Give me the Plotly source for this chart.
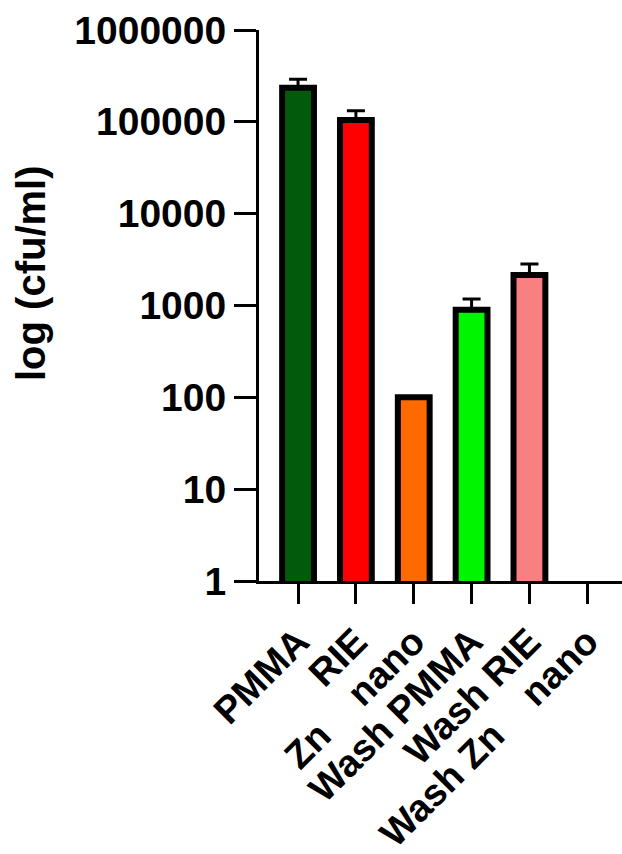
import plotly.graph_objects as go

categories = ["PMMA", "RIE", "Zn\u00a0\u00a0\u00a0\u00a0nano", "Wash PMMA", "Wash RIE", "Wash Zn\u00a0\u00a0\u00a0\u00a0nano"]
values = [235000, 105000, 100, 900, 2150, None]
errors_up = [55000, 27000, 0, 280, 680, 0]
colors = ["#005c0a", "#ff0000", "#ff6a00", "#00f500", "#f88080", "#ffffff"]
tick_vals = [1, 10, 100, 1000, 10000, 100000, 1000000]
tick_text = ["1", "10", "100", "1000", "10000", "100000", "1000000"]

FONT = "Liberation Sans, Arial, sans-serif"

fig = go.Figure()
fig.add_trace(go.Bar(
    x=categories,
    y=values,
    width=0.55,
    marker=dict(color=colors, line=dict(color="black", width=6)),
    error_y=dict(type="data", symmetric=False, array=errors_up,
                 arrayminus=[0] * len(values), color="black",
                 thickness=3, width=9),
))

fig.update_layout(
    width=622, height=854,
    margin=dict(l=259, r=0, t=30, b=273),
    plot_bgcolor="white", paper_bgcolor="white",
    showlegend=False,
    font=dict(family=FONT, color="black"),
    xaxis=dict(
        range=[-0.675, 5.6],
        automargin=False,
        showline=True, linecolor="black", linewidth=3,
        ticks="outside", ticklen=20, tickwidth=3, tickcolor="black",
        tickangle=-45,
        tickfont=dict(family=FONT, size=38, color="black", weight="bold"),
        showgrid=False, zeroline=False,
    ),
    yaxis=dict(
        type="log", range=[0, 6],
        automargin=False,
        tickvals=tick_vals, ticktext=tick_text,
        showline=True, linecolor="black", linewidth=3,
        ticks="outside", ticklen=22, tickwidth=3, tickcolor="black",
        tickfont=dict(family=FONT, size=39, color="black", weight="bold"),
        showgrid=False, zeroline=False,
    ),
    annotations=[dict(
        text="log (cfu/ml)", textangle=-90,
        xref="paper", yref="paper",
        x=(31 - 259) / 363, y=(581 - 273) / 551,
        xanchor="center", yanchor="middle", showarrow=False,
        font=dict(family=FONT, size=40, color="black", weight="bold"),
    )],
)

fig.write_html("out.html")
